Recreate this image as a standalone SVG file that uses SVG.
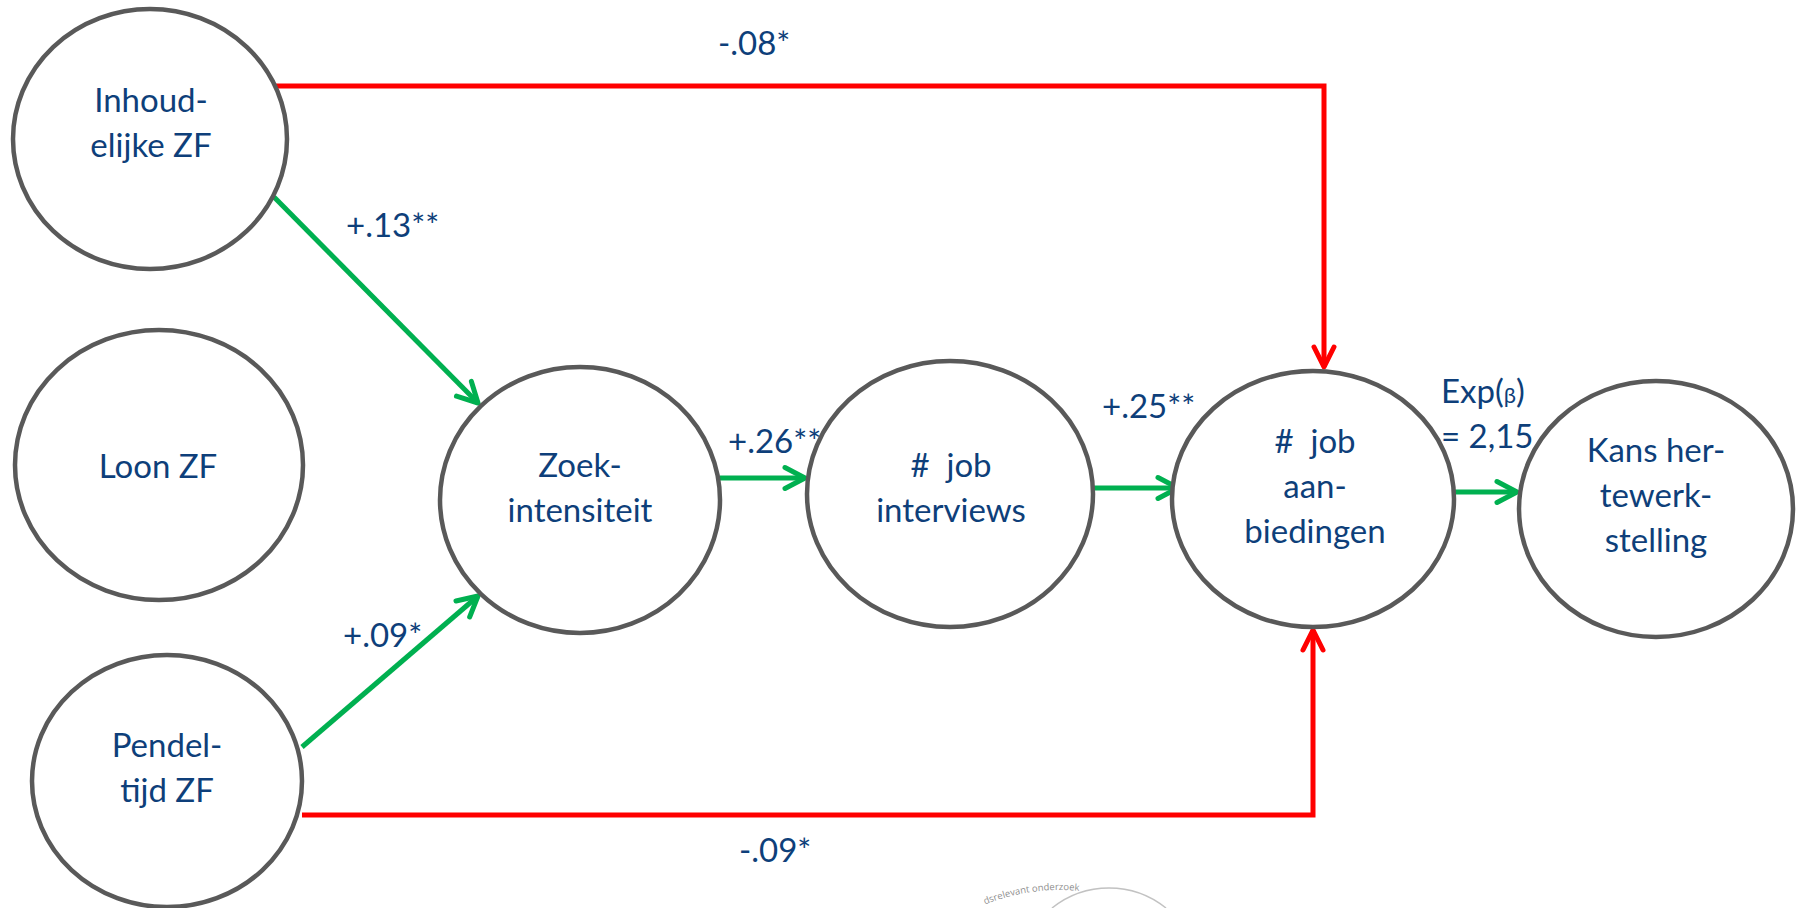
<svg xmlns="http://www.w3.org/2000/svg" width="1802" height="908" viewBox="0 0 1802 908">
<style>
.node ellipse{fill:#ffffff;stroke:#595959;stroke-width:4.5}
.t{font-family:Lato,"Open Sans",sans-serif;font-size:33px;fill:#0E3F7A;text-anchor:middle;white-space:pre}
.lbl{font-family:Lato,"Open Sans",sans-serif;font-size:33px;fill:#0E3F7A}
.g{fill:none;stroke:#00B050;stroke-width:5}
.r{fill:none;stroke:#FF0000;stroke-width:5}
</style>
<defs>
<marker id="ag" markerUnits="userSpaceOnUse" markerWidth="30" markerHeight="30" viewBox="-25 -15 30 30" refX="0" refY="0" orient="auto">
<path d="M-20,-10.5 L0,0 L-20,10.5" fill="none" stroke="#00B050" stroke-width="5" stroke-linecap="round" stroke-linejoin="round"/>
</marker>
<marker id="ar" markerUnits="userSpaceOnUse" markerWidth="30" markerHeight="30" viewBox="-25 -15 30 30" refX="0" refY="0" orient="auto">
<path d="M-20,-10 L0,0 L-20,10" fill="none" stroke="#FF0000" stroke-width="5" stroke-linecap="round" stroke-linejoin="round"/>
</marker>
</defs>
<rect width="1802" height="908" fill="#ffffff"/>
<g id="watermark" opacity="0.6">
<path d="M1052,908 A91,91 0 0 1 1166,908" fill="none" stroke="#9a9a9a" stroke-width="1.5"/>
<path id="wmarc" d="M985,904.6 A200,200 0 0 1 1100,894" fill="none"/>
<text font-family="'Open Sans',sans-serif" font-size="9.5" fill="#444"><textPath href="#wmarc">dsrelevant onderzoek</textPath></text>
</g>
<g id="connectors">
<path class="r" d="M276,86 H1324 V367" marker-end="url(#ar)"/>
<path class="r" d="M302,815 H1313 V630" marker-end="url(#ar)"/>
<path class="g" d="M274,197 L478,403" marker-end="url(#ag)"/>
<path class="g" d="M302,747 L478,596" marker-end="url(#ag)"/>
<path class="g" d="M720,478 H805" marker-end="url(#ag)"/>
<path class="g" d="M1092,488 H1178" marker-end="url(#ag)"/>
<path class="g" d="M1436,492 H1517" marker-end="url(#ag)"/>
</g>
<g id="labels">
<text class="lbl" x="718" y="55">-.08*</text>
<text class="lbl" x="346" y="237">+.13**</text>
<text class="lbl" x="343" y="647">+.09*</text>
<text class="lbl" x="739" y="862">-.09*</text>
<text class="lbl" x="728" y="453">+.26**</text>
<text class="lbl" x="1102" y="418">+.25**</text>
<text class="lbl" x="1441" y="403">Exp(<tspan font-size="22">β</tspan>)</text>
<text class="lbl" x="1441" y="448">= 2,15</text>
</g>
<g id="n-inhoud" class="node">
<ellipse cx="150" cy="139" rx="137" ry="130"/>
<text class="t" x="151" y="112">Inhoud-</text>
<text class="t" x="151" y="157">elijke ZF</text>
</g>
<g id="n-loon" class="node">
<ellipse cx="159" cy="465" rx="144" ry="135"/>
<text class="t" x="158" y="478">Loon ZF</text>
</g>
<g id="n-pendel" class="node">
<ellipse cx="167" cy="781" rx="135" ry="126"/>
<text class="t" x="167" y="757">Pendel-</text>
<text class="t" x="167" y="802">tijd ZF</text>
</g>
<g id="n-zoek" class="node">
<ellipse cx="580" cy="500" rx="140" ry="133"/>
<text class="t" x="580" y="477">Zoek-</text>
<text class="t" x="580" y="522">intensiteit</text>
</g>
<g id="n-interviews" class="node">
<ellipse cx="950" cy="494" rx="143" ry="133"/>
<text class="t" x="951" y="477">#  job</text>
<text class="t" x="951" y="522">interviews</text>
</g>
<g id="n-aanbiedingen" class="node">
<ellipse cx="1313" cy="499" rx="141" ry="128"/>
<text class="t" x="1315" y="453">#  job</text>
<text class="t" x="1315" y="498">aan-</text>
<text class="t" x="1315" y="543">biedingen</text>
</g>
<g id="n-kans" class="node">
<ellipse cx="1656" cy="509" rx="137" ry="128"/>
<text class="t" x="1656" y="462">Kans her-</text>
<text class="t" x="1656" y="507">tewerk-</text>
<text class="t" x="1656" y="552">stelling</text>
</g>
</svg>
